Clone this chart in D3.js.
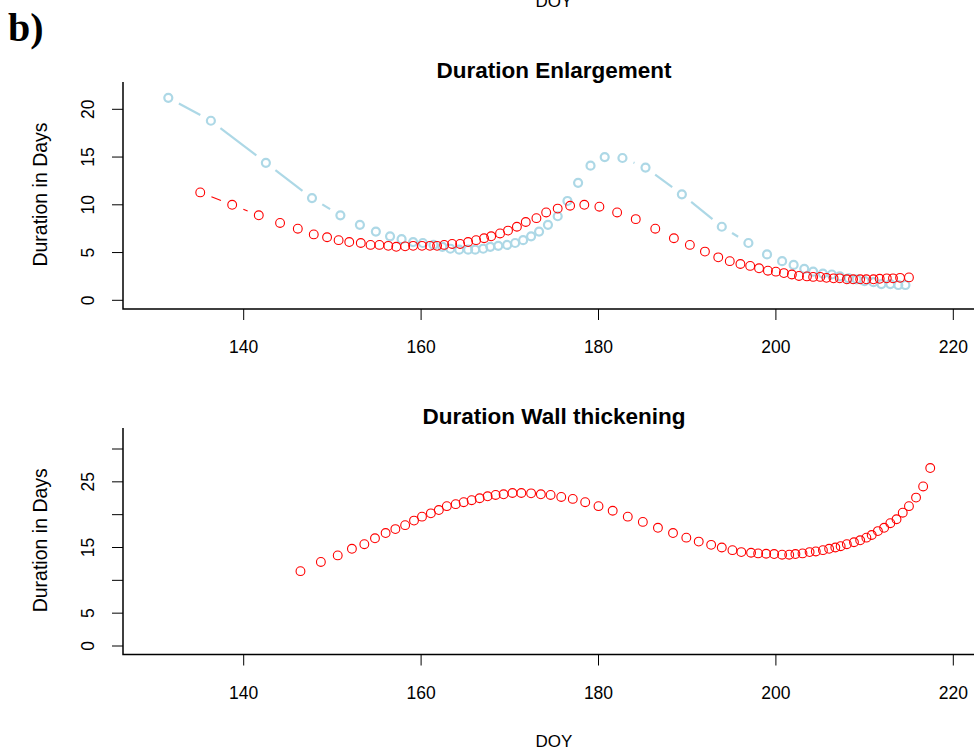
<!DOCTYPE html>
<html>
<head>
<meta charset="utf-8">
<script src="https://cdn.jsdelivr.net/npm/d3@7"></script>
<style>
  body { margin: 0; background: #fff; }
  svg { display: block; font-family: "Liberation Sans", Arial, sans-serif; }
</style>
</head>
<body>
<script>
// --- Data ---
// Duration Enlargement, light blue series
const enlBlueDoy = [131.5, 136.3, 142.5, 147.7, 150.9, 153.1, 154.9, 156.5, 157.8, 159.1,
  160.2, 161.4, 162.4, 163.3, 164.3, 165.3, 166.1, 167.0, 167.8, 168.7,
  169.7, 170.6, 171.5, 172.4, 173.3, 174.3, 175.4, 176.5, 177.7, 179.1,
  180.7, 182.7, 185.3, 189.4, 193.9, 196.9, 199.0, 200.7, 202.0, 203.2,
  204.2, 205.3, 206.3, 207.2, 208.2, 209.1, 210.0, 211.0, 211.9, 212.9,
  213.8, 214.6];
const enlBlueDays = [21.2, 18.8, 14.4, 10.7, 8.9, 7.9, 7.2, 6.7, 6.4, 6.1,
  6.0, 5.8, 5.6, 5.4, 5.3, 5.3, 5.3, 5.4, 5.6, 5.7,
  5.8, 6.0, 6.3, 6.7, 7.2, 7.9, 8.8, 10.4, 12.3, 14.1,
  15.0, 14.9, 13.9, 11.1, 7.7, 6.0, 4.8, 4.1, 3.7, 3.3,
  3.0, 2.8, 2.7, 2.5, 2.3, 2.2, 2.0, 1.9, 1.7, 1.7,
  1.6, 1.6];

// Duration Enlargement, red series
const enlRedDoy = [135.1, 138.7, 141.7, 144.1, 146.1, 147.9, 149.4, 150.7, 151.9, 153.2,
  154.3, 155.3, 156.3, 157.2, 158.2, 159.1, 160.1, 161.0, 161.8, 162.6,
  163.5, 164.4, 165.3, 166.2, 167.1, 167.9, 168.9, 169.8, 170.8, 171.8,
  173.0, 174.1, 175.4, 176.8, 178.4, 180.1, 182.1, 184.2, 186.4, 188.5,
  190.3, 192.0, 193.5, 194.8, 196.0, 197.1, 198.1, 199.1, 200.0, 200.9,
  201.8, 202.6, 203.5, 204.2, 205.0, 205.7, 206.5, 207.2, 208.0, 208.7,
  209.5, 210.2, 211.0, 211.7, 212.5, 213.2, 214.0, 215.0];
const enlRedDays = [11.3, 10.0, 8.9, 8.1, 7.5, 6.9, 6.6, 6.3, 6.1, 6.0,
  5.8, 5.8, 5.7, 5.6, 5.65, 5.7, 5.7, 5.7, 5.7, 5.8,
  5.9, 5.9, 6.1, 6.3, 6.5, 6.7, 7.0, 7.3, 7.7, 8.2,
  8.6, 9.2, 9.6, 9.9, 10.0, 9.8, 9.2, 8.5, 7.5, 6.5,
  5.8, 5.1, 4.5, 4.1, 3.8, 3.6, 3.35, 3.1, 3.0, 2.85,
  2.7, 2.55, 2.5, 2.45, 2.45, 2.35, 2.3, 2.3, 2.2, 2.2,
  2.2, 2.2, 2.2, 2.25, 2.3, 2.3, 2.35, 2.4];

// Duration Wall thickening, red series
const wallDoy = [146.4, 148.7, 150.6, 152.2, 153.6, 154.8, 156.0, 157.1, 158.2, 159.2,
  160.1, 161.1, 162.0, 162.9, 163.9, 164.8, 165.7, 166.6, 167.5, 168.4,
  169.3, 170.3, 171.3, 172.4, 173.5, 174.6, 175.8, 177.1, 178.5, 180.0,
  181.6, 183.3, 185.0, 186.7, 188.4, 189.9, 191.3, 192.7, 193.9, 195.1,
  196.1, 197.2, 198.0, 198.9, 199.8, 200.7, 201.5, 202.2, 203.0, 203.8,
  204.5, 205.3, 206.0, 206.7, 207.3, 208.0, 208.8, 209.5, 210.2, 210.8,
  211.5, 212.2, 212.9, 213.6, 214.3, 215.0, 215.8, 216.6, 217.4];
const wallDays = [11.4, 12.8, 13.8, 14.8, 15.5, 16.4, 17.2, 17.8, 18.4, 19.1,
  19.7, 20.2, 20.7, 21.3, 21.6, 21.9, 22.2, 22.5, 22.8, 23.0,
  23.1, 23.3, 23.3, 23.25, 23.1, 23.0, 22.7, 22.4, 21.9, 21.3,
  20.6, 19.7, 18.9, 18.0, 17.2, 16.5, 15.9, 15.4, 15.0, 14.6,
  14.3, 14.2, 14.1, 14.05, 14.0, 13.9, 13.9, 14.0, 14.1, 14.3,
  14.4, 14.6, 14.8, 15.0, 15.2, 15.5, 15.8, 16.1, 16.5, 16.9,
  17.5, 18.0, 18.7, 19.3, 20.3, 21.3, 22.6, 24.3, 27.1];

// Axis ticks
const xTicks = [140, 160, 180, 200, 220];
const enlYTicks = [0, 5, 10, 15, 20];
const wallYTicks = [0, 5, 10, 15, 20, 25, 30];
const wallYLabels = ["0", "5", "", "15", "", "25", ""];

// --- Page setup ---
const W = 974, H = 750;
const svg = d3.select("body").append("svg")
  .attr("width", W).attr("height", H);

// Panel tag and the cut-off x label of the panel above
svg.append("text")
  .attr("x", 8).attr("y", 41)
  .attr("font-family", "'Liberation Serif', 'Times New Roman', serif")
  .attr("font-weight", "bold").attr("font-size", 40)
  .text("b)");
svg.append("text")
  .attr("x", 554).attr("y", 7).attr("text-anchor", "middle")
  .attr("font-size", 17).text("DOY");

// Draws one R-style panel: L-shaped frame, ticks, labels, title
function panel(cfg) {
  const g = svg.append("g");
  const x = d3.scaleLinear().domain([140, 220]).range([243.7, 953.3]);
  const y = d3.scaleLinear().domain(cfg.yDom).range(cfg.yRange);

  // L frame (bty = "l")
  g.append("path")
    .attr("d", `M${cfg.left},${cfg.top}V${cfg.bottom}H${W}`)
    .attr("fill", "none").attr("stroke", "#000").attr("stroke-width", 1.5);

  // x ticks + labels
  g.selectAll(".xt").data(xTicks).join("line")
    .attr("x1", d => x(d)).attr("x2", d => x(d))
    .attr("y1", cfg.bottom).attr("y2", cfg.bottom + 11)
    .attr("stroke", "#000");
  g.selectAll(".xl").data(xTicks).join("text")
    .attr("x", d => x(d)).attr("y", cfg.bottom + 44)
    .attr("text-anchor", "middle").attr("font-size", 17.5)
    .text(d => d);

  // y ticks + rotated labels
  g.selectAll(".yt").data(cfg.yTicks).join("line")
    .attr("x1", cfg.left - 11).attr("x2", cfg.left)
    .attr("y1", d => y(d)).attr("y2", d => y(d))
    .attr("stroke", "#000");
  g.selectAll(".yl").data(cfg.yTicks).join("text")
    .attr("transform", d => `translate(94,${y(d)}) rotate(-90)`)
    .attr("text-anchor", "middle").attr("font-size", 17.5)
    .text((d, i) => cfg.yLabels ? cfg.yLabels[i] : d);

  // y title
  g.append("text")
    .attr("transform", `translate(47,${(cfg.top + cfg.bottom) / 2 - 1}) rotate(-90)`)
    .attr("text-anchor", "middle").attr("font-size", 19.5)
    .text("Duration in Days");

  // panel title
  g.append("text")
    .attr("x", 554).attr("y", cfg.top - 4)
    .attr("text-anchor", "middle").attr("font-size", 22.5).attr("font-weight", "bold")
    .text(cfg.title);

  // series: open circles joined by gapped segments (type = "b")
  cfg.series.forEach(s => {
    const pts = s.doy.map((d, i) => [x(d), y(s.days[i])]);
    const gap = 12;
    const segs = [];
    for (let i = 1; i < pts.length; i++) {
      const [x0, y0] = pts[i - 1], [x1, y1] = pts[i];
      const len = Math.hypot(x1 - x0, y1 - y0);
      if (len > 2 * gap) {
        const ux = (x1 - x0) / len, uy = (y1 - y0) / len;
        segs.push([x0 + ux * gap, y0 + uy * gap, x1 - ux * gap, y1 - uy * gap]);
      }
    }
    g.append("g").selectAll("line").data(segs).join("line")
      .attr("x1", d => d[0]).attr("y1", d => d[1])
      .attr("x2", d => d[2]).attr("y2", d => d[3])
      .attr("stroke", s.color).attr("stroke-width", s.lw);
    g.append("g").selectAll("circle").data(pts).join("circle")
      .attr("cx", d => d[0]).attr("cy", d => d[1]).attr("r", s.r)
      .attr("fill", "none").attr("stroke", s.color).attr("stroke-width", s.lw);
  });

  if (cfg.xTitle) {
    g.append("text")
      .attr("x", 554).attr("y", cfg.bottom + 92)
      .attr("text-anchor", "middle").attr("font-size", 17)
      .text("DOY");
  }
}

panel({
  title: "Duration Enlargement",
  left: 123, top: 82, bottom: 309,
  yDom: [0, 20], yRange: [300.3, 109.3], yTicks: enlYTicks,
  series: [
    { doy: enlBlueDoy, days: enlBlueDays, color: "#ADD8E6", lw: 2.2, r: 4 },
    { doy: enlRedDoy, days: enlRedDays, color: "#FF0000", lw: 1.1, r: 4.4 }
  ]
});

panel({
  title: "Duration Wall thickening",
  left: 123, top: 428, bottom: 654.5,
  yDom: [0, 30], yRange: [646, 449], yTicks: wallYTicks, yLabels: wallYLabels,
  series: [
    { doy: wallDoy, days: wallDays, color: "#FF0000", lw: 1.1, r: 4.4 }
  ],
  xTitle: true
});
</script>
</body>
</html>
